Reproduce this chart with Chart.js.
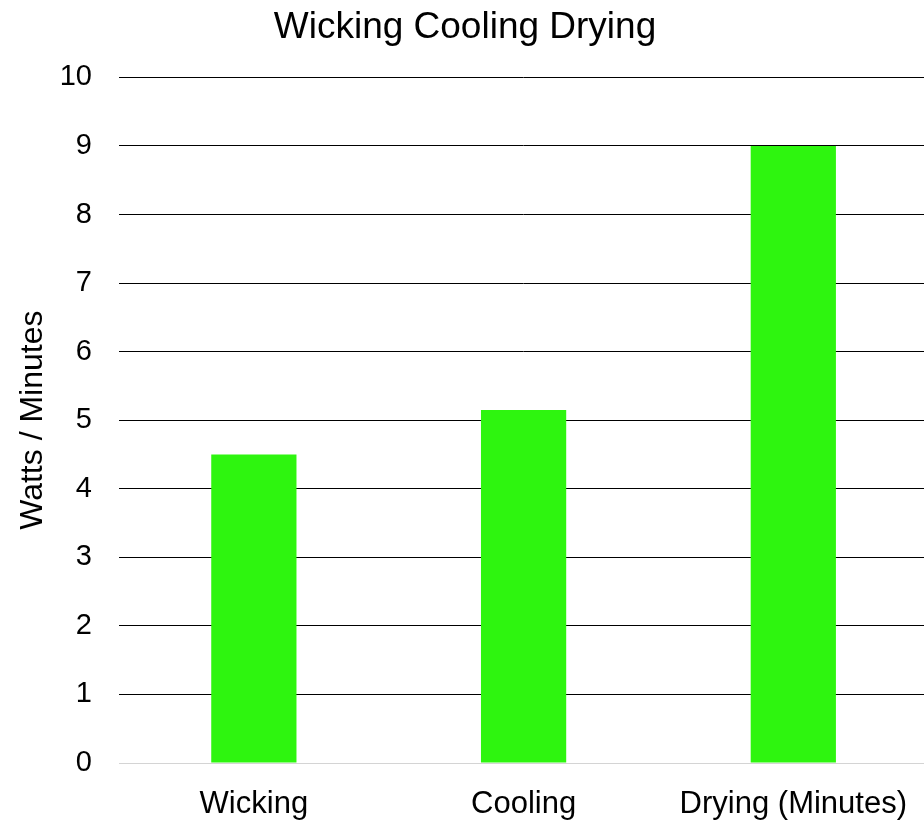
<!DOCTYPE html>
<html>
<head>
<meta charset="utf-8">
<script src="https://cdn.jsdelivr.net/npm/chart.js@4/dist/chart.umd.min.js"></script>
<style>
  html, body { margin: 0; padding: 0; background: #fff; overflow: hidden; }
  #wrap { width: 930px; height: 820px; }
</style>
</head>
<body>
<div id="wrap"><canvas id="chart"></canvas></div>
<script>
// Measured values per activity
const categories = ['Wicking', 'Cooling', 'Drying (Minutes)'];
const values = [4.5, 5.15, 9];
const yTicks = [0, 1, 2, 3, 4, 5, 6, 7, 8, 9, 10];

const FONT = '"Liberation Sans", Arial, Helvetica, sans-serif';

new Chart(document.getElementById('chart'), {
  type: 'bar',
  data: {
    labels: categories,
    datasets: [{
      label: 'Watts / Minutes',
      data: values,
      backgroundColor: '#2ef50f',
      borderWidth: 0,
      categoryPercentage: 1,
      barPercentage: 0.316
    }]
  },
  options: {
    responsive: true,
    maintainAspectRatio: false,
    animation: false,
    layout: { padding: { left: 0, right: 0, top: 0, bottom: 0 } },
    plugins: {
      legend: { display: false },
      tooltip: { enabled: false },
      title: {
        display: true,
        text: 'Wicking Cooling Drying',
        color: '#000',
        font: { family: FONT, size: 37, weight: 'normal', lineHeight: 1.2 },
        padding: { top: 6, bottom: 27 }
      }
    },
    scales: {
      x: {
        grid: { display: false, drawTicks: false },
        border: { display: true, color: '#d4d4d4', width: 1 },
        ticks: {
          color: '#000',
          padding: 23,
          maxRotation: 0,
          autoSkip: false,
          font: { family: FONT, size: 31 }
        },
        afterFit(scale) { scale.height = 57; }
      },
      y: {
        min: 0,
        max: 10,
        afterBuildTicks(scale) { scale.ticks = yTicks.map(v => ({ value: v })); },
        grid: {
          drawTicks: false,
          color: ctx => (ctx.tick && ctx.tick.value === 0) ? '#d4d4d4' : '#000',
          lineWidth: 1
        },
        border: { display: false },
        ticks: {
          color: '#000',
          padding: 27,
          font: { family: FONT, size: 29 }
        },
        title: {
          display: true,
          text: 'Watts / Minutes',
          color: '#000',
          font: { family: FONT, size: 32 },
          padding: { top: 14, bottom: 0 }
        },
        afterFit(scale) { scale.width = 119; }
      }
    }
  }
});
</script>
</body>
</html>
